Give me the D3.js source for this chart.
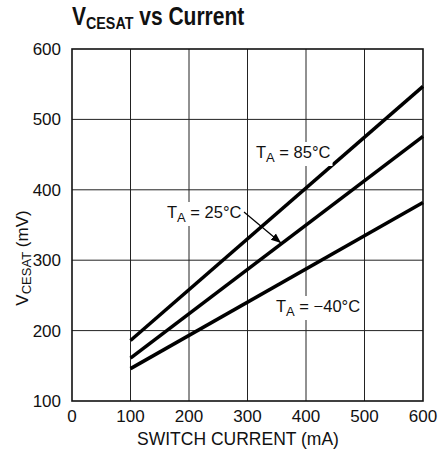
<!DOCTYPE html>
<meta charset="utf-8">
<style>
body { margin: 0; background: #fff; }
text { font-family: "Liberation Sans", Arial, sans-serif; fill: #111; }
</style>
<body>
<script src="https://d3js.org/d3.v7.min.js"></script>
<script>

var current = [100, 600];
var t85 = [186, 547],
    t25 = [161, 476],
    tm40 = [146, 382];

var xTicks = [0, 100, 200, 300, 400, 500, 600],
    yTicks = [100, 200, 300, 400, 500, 600];

var w = 440, h = 460,
    x0 = 72, x1 = 423, y0 = 49, y1 = 401;

var svg = d3.select("body").append("svg")
    .attr("width", w)
    .attr("height", h);

var x = d3.scaleLinear().domain([0, 600]).range([x0, x1]),
    y = d3.scaleLinear().domain([100, 600]).range([y1, y0]);

// grid
svg.append("g").selectAll("line")
    .data(xTicks.slice(1, -1))
  .enter().append("line")
    .attr("x1", x).attr("x2", x)
    .attr("y1", y0).attr("y2", y1)
    .attr("stroke", "#222").attr("stroke-width", 1);

svg.append("g").selectAll("line")
    .data(yTicks.slice(1, -1))
  .enter().append("line")
    .attr("y1", y).attr("y2", y)
    .attr("x1", x0).attr("x2", x1)
    .attr("stroke", "#222").attr("stroke-width", 1);

svg.append("rect")
    .attr("x", x0).attr("y", y0)
    .attr("width", x1 - x0).attr("height", y1 - y0)
    .attr("fill", "none").attr("stroke", "#111").attr("stroke-width", 1.6);

// tick labels
svg.append("g").selectAll("text")
    .data(xTicks)
  .enter().append("text")
    .attr("x", x).attr("y", 422)
    .attr("text-anchor", "middle")
    .style("font-size", "17px")
    .text(function(d) { return d; });

svg.append("g").selectAll("text")
    .data(yTicks)
  .enter().append("text")
    .attr("x", 61).attr("y", function(d) { return y(d) + 6; })
    .attr("text-anchor", "end")
    .style("font-size", "17px")
    .text(function(d) { return d; });

svg.append("text")
    .attr("x", 238).attr("y", 445)
    .attr("text-anchor", "middle")
    .style("font-size", "17.5px")
    .text("SWITCH CURRENT (mA)");

var yl = svg.append("text")
    .attr("transform", "translate(28,258) rotate(-90)")
    .attr("text-anchor", "middle")
    .style("font-size", "17px");
yl.append("tspan").text("V");
yl.append("tspan").attr("dy", 3).style("font-size", "13px").text("CESAT");
yl.append("tspan").attr("dy", -3).text(" (mV)");

// title, squeezed to look condensed
var title = svg.append("text")
    .style("font-size", "25px").style("font-weight", "bold");
title.append("tspan").text("V");
title.append("tspan").attr("dy", 4).style("font-size", "17px").text("CESAT");
title.append("tspan").attr("dy", -4).text(" vs Current");
var tw = title.node().getBBox().width;
title.attr("transform", "translate(72,25) scale(" + (173 / tw) + ",1)");

// curves
var line = d3.line()
    .x(function(d, i) { return x(current[i]); })
    .y(function(d) { return y(d); });

svg.append("g").selectAll("path")
    .data([t85, t25, tm40])
  .enter().append("path")
    .attr("d", line)
    .attr("fill", "none")
    .attr("stroke", "#000")
    .attr("stroke-width", 3.5);

// labels
function label(px, py, temp) {
  var g = svg.append("g");
  var t = g.append("text").attr("x", px).attr("y", py).style("font-size", "16.5px");
  t.append("tspan").text("T");
  t.append("tspan").attr("dy", 4).style("font-size", "13px").text("A");
  t.append("tspan").attr("dy", -4).text(" = " + temp + "\u00b0C");
  var b = t.node().getBBox();
  g.insert("rect", "text")
    .attr("x", b.x - 2).attr("y", b.y - 1)
    .attr("width", b.width + 4).attr("height", b.height + 2)
    .attr("fill", "#fff");
}

label(256, 158, "85");
label(167, 218, "25");
label(276, 312, "\u221240");

// arrow
svg.append("defs").append("marker")
    .attr("id", "arr")
    .attr("viewBox", "0 0 10 10")
    .attr("refX", 10).attr("refY", 5)
    .attr("markerWidth", 10).attr("markerHeight", 10)
    .attr("markerUnits", "userSpaceOnUse")
    .attr("orient", "auto")
  .append("path")
    .attr("d", "M0,1L10,5L0,9Z")
    .attr("fill", "#000");

svg.append("line")
    .attr("x1", 244).attr("y1", 212)
    .attr("x2", 281).attr("y2", 243)
    .attr("stroke", "#000").attr("stroke-width", 1.2)
    .attr("marker-end", "url(#arr)");

</script>
